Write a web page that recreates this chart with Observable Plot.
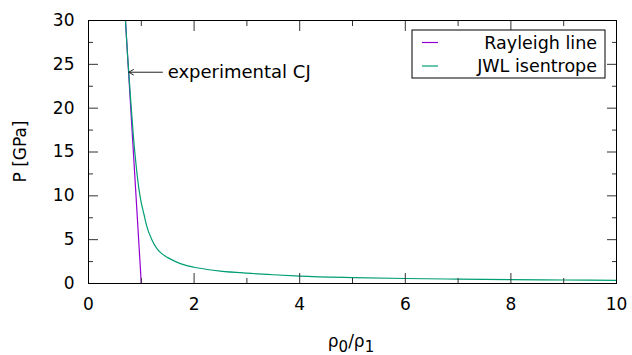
<!DOCTYPE html>
<html><head><meta charset="utf-8">
<script src="https://cdn.jsdelivr.net/npm/d3@7"></script>
<script src="https://cdn.jsdelivr.net/npm/@observablehq/plot@0.6"></script>
<style>
body{margin:0;background:#fff}
#chart{position:relative;width:632px;height:355px}
</style>
</head><body><div id="chart"></div>
<script>
// Series names and colours
const seriesNames = ["Rayleigh line", "JWL isentrope"];
const seriesColors = ["#9400d3", "#009e73"];

// Rayleigh line (rho0/rho1, P in GPa)
const rayleighRatio = [0.70, 1.00];
const rayleighP = [30, 0];

// JWL isentrope
const jwlRatio = [0.70, 0.74, 0.763, 0.80, 0.85, 0.90, 0.95, 1.00, 1.05, 1.10, 1.20, 1.30, 1.40, 1.50, 1.65, 1.80, 2.00, 2.25, 2.50, 3.00, 3.50, 4.00, 5.00, 6.00, 7.00, 8.00, 9.00, 10.0];
const jwlP     = [30.0, 26.0, 24.1, 20.8, 16.8, 13.6, 11.0, 9.2, 7.9, 6.6, 5.0, 3.95, 3.35, 2.95, 2.5, 2.15, 1.85, 1.6, 1.42, 1.18, 1.0, 0.85, 0.68, 0.57, 0.5, 0.44, 0.4, 0.36];

// Annotation: experimental CJ point
const cjLabel = ["experimental CJ"];
const cjRatio = [0.763];
const cjP = [24.1];
const cjArrowTail = [1.40];
const cjTextRatio = [1.50];

// Axis ticks
const xTicks = [0, 2, 4, 6, 8, 10];
const xMinorTicks = [1, 3, 5, 7, 9];
const yTicks = [0, 5, 10, 15, 20, 25, 30];
const yMinorTicks = [2.5, 7.5, 12.5, 17.5, 22.5, 27.5];

const rayleigh = rayleighRatio.map((x, i) => ({x, p: rayleighP[i]}));
const jwl = jwlRatio.map((x, i) => ({x, p: jwlP[i]}));
const cj = cjLabel.map((t, i) => ({t, x: cjRatio[i], p: cjP[i], tail: cjArrowTail[i], tx: cjTextRatio[i]}));

const font = "DejaVu Sans";
const tickColor = "#333";

const plot = Plot.plot({
  width: 632, height: 355,
  marginLeft: 88, marginRight: 16, marginTop: 20, marginBottom: 72,
  style: {fontFamily: font, fontSize: "17px", background: "#fff", color: "#000"},
  x: {domain: [0, 10]},
  y: {domain: [0, 30]},
  marks: [
    Plot.line(rayleigh, {x: "x", y: "p", stroke: seriesColors[0], strokeWidth: 1.2, clip: true}),
    Plot.line(jwl, {x: "x", y: "p", stroke: seriesColors[1], strokeWidth: 1.2, curve: "monotone-x", clip: true}),
    Plot.arrow(cj, {x1: "tail", y1: "p", x2: "x", y2: "p", stroke: "#222", strokeWidth: 1, headLength: 8}),
    Plot.text(cj, {x: "tx", y: "p", text: "t", textAnchor: "start", lineAnchor: "middle", fill: "#000", fontSize: 18}),
    // labels
    Plot.axisX(xTicks, {anchor: "bottom", tickSize: 0, tickPadding: 14, label: null}),
    Plot.axisY(yTicks, {anchor: "left", tickSize: 0, tickPadding: 14, label: null}),
    // inward major ticks on all sides
    Plot.axisX(xTicks, {anchor: "bottom", tickSize: -10, tickFormat: () => "", label: null, stroke: tickColor}),
    Plot.axisX(xTicks, {anchor: "top", tickSize: -10, tickFormat: () => "", label: null, stroke: tickColor}),
    Plot.axisY(yTicks, {anchor: "left", tickSize: -10, tickFormat: () => "", label: null, stroke: tickColor}),
    Plot.axisY(yTicks, {anchor: "right", tickSize: -10, tickFormat: () => "", label: null, stroke: tickColor}),
    // inward minor ticks
    Plot.axisX(xMinorTicks, {anchor: "bottom", tickSize: -5, tickFormat: () => "", label: null, stroke: tickColor}),
    Plot.axisX(xMinorTicks, {anchor: "top", tickSize: -5, tickFormat: () => "", label: null, stroke: tickColor}),
    Plot.axisY(yMinorTicks, {anchor: "left", tickSize: -5, tickFormat: () => "", label: null, stroke: tickColor}),
    Plot.axisY(yMinorTicks, {anchor: "right", tickSize: -5, tickFormat: () => "", label: null, stroke: tickColor}),
    Plot.frame({stroke: "#000", strokeWidth: 1})
  ]
});

const svg = d3.select(plot);

// Axis titles
const xt = svg.append("text")
  .attr("x", 351).attr("y", 347)
  .attr("text-anchor", "middle")
  .attr("font-family", font).attr("font-size", 17).attr("fill", "#000");
xt.append("tspan").text("ρ");
xt.append("tspan").attr("dy", 5).attr("font-size", 15).text("0");
xt.append("tspan").attr("dy", -5).text("/ρ");
xt.append("tspan").attr("dy", 5).attr("font-size", 15).text("1");

svg.append("text")
  .attr("transform", "translate(25.5,151.5) rotate(-90)")
  .attr("text-anchor", "middle")
  .attr("font-family", font).attr("font-size", 17).attr("fill", "#000")
  .text("P [GPa]");

// Legend
const leg = svg.append("g");
leg.append("rect").attr("x", 412).attr("y", 30).attr("width", 193).attr("height", 48)
  .attr("fill", "#fff").attr("stroke", "#000").attr("stroke-width", 1);
seriesNames.forEach((name, i) => {
  const cy = 42.5 + i * 23.5;
  leg.append("line").attr("x1", 422).attr("x2", 438).attr("y1", cy).attr("y2", cy)
    .attr("stroke", seriesColors[i]).attr("stroke-width", 1.2);
  leg.append("text").attr("x", 597).attr("y", cy + 6)
    .attr("text-anchor", "end")
    .attr("font-family", font).attr("font-size", 17.5).attr("fill", "#000")
    .text(name);
});

document.getElementById("chart").appendChild(plot);
</script></body></html>
